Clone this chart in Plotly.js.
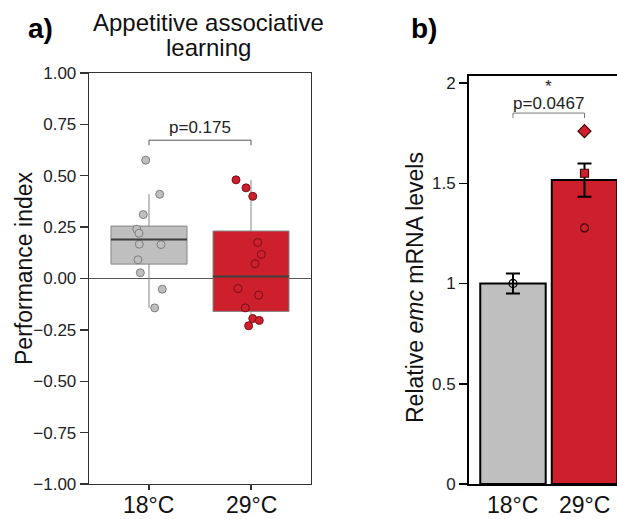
<!DOCTYPE html>
<html>
<head>
<meta charset="utf-8">
<script src="https://cdn.plot.ly/plotly-3.0.1.min.js"></script>
<style>
html, body { margin: 0; padding: 0; overflow: hidden; background: #fff; }
#chart { width: 640px; height: 519px; }
</style>
</head>
<body>
<div id="chart"></div>
<script>
// ---------- data ----------
const categories = ['18°C', '29°C'];

// Panel a: performance index, individual values
const pi18 = [0.576, 0.41, 0.311, 0.24, 0.22, 0.167, 0.165, 0.091, 0.028, -0.052, -0.143];
const jitter18 = [-0.032, 0.105, -0.056, -0.12, -0.098, -0.095, 0.118, -0.108, -0.085, 0.13, 0.056];
const pi29 = [0.48, 0.441, 0.40, 0.175, 0.117, 0.072, -0.049, -0.081, -0.143, -0.195, -0.204, -0.23];
const jitter29 = [-0.147, -0.049, 0.017, 0.066, 0.101, 0.039, -0.127, 0.075, -0.056, 0.017, 0.081, -0.023];

// Panel a: box statistics
const boxQ1 = [0.07, -0.16];
const boxMedian = [0.19, 0.01];
const boxQ3 = [0.255, 0.231];
const boxLowerFence = [-0.143, -0.23];
const boxUpperFence = [0.41, 0.48];
const pValueA = 'p=0.175';
const bracketA = 0.673;

// Panel b: relative emc mRNA levels
const meanExpr = [1.0, 1.516];
const semExpr = [0.05, 0.083];
const rep18 = [1.0];
const rep29 = [1.76, 1.55, 1.277];
const pValueB = 'p=0.0467';
const bracketB = 1.85;

// ---------- styling ----------
const FONT = 'Liberation Sans, Arial, Helvetica, sans-serif';
const W = 640, H = 519;
const px = x => x / W;
const py = y => 1 - y / H;
const GRAY = '#bfbfbf';
const RED = '#cd1f2c';
const boxW = 0.745;
const fills = [GRAY, RED];
const pointLines = ['#7f7f7f', '#7a0e16'];

const traces = [];
const shapes = [];

// boxes
[0, 1].forEach(i => {
  traces.push({
    type: 'box', xaxis: 'x', yaxis: 'y',
    x: [i], q1: [boxQ1[i]], median: [boxMedian[i]], q3: [boxQ3[i]],
    lowerfence: [boxLowerFence[i]], upperfence: [boxUpperFence[i]],
    width: boxW, whiskerwidth: 0, boxpoints: false,
    fillcolor: fills[i], line: { color: '#858585', width: 1 },
    showlegend: false, hoverinfo: 'skip'
  });
  shapes.push({
    type: 'line', xref: 'x', yref: 'y',
    x0: i - boxW / 2, x1: i + boxW / 2, y0: boxMedian[i], y1: boxMedian[i],
    line: { color: '#3f3f3f', width: 2 }
  });
});

// jittered points
[[pi18, jitter18, 0], [pi29, jitter29, 1]].forEach(([vals, jit, i]) => {
  traces.push({
    type: 'scatter', mode: 'markers', xaxis: 'x', yaxis: 'y',
    x: vals.map((v, k) => i + jit[k]), y: vals,
    marker: { size: 8, opacity: 1, color: fills[i], line: { color: pointLines[i], width: 1 } },
    showlegend: false, hoverinfo: 'skip'
  });
});

// bracket panel a
shapes.push({
  type: 'path', xref: 'x', yref: 'y',
  path: `M 0,${bracketA - 0.025} L 0,${bracketA} L 1,${bracketA} L 1,${bracketA - 0.025}`,
  line: { color: '#555', width: 1 }
});

// panel b bars
traces.push({
  type: 'bar', xaxis: 'x2', yaxis: 'y2',
  x: [0, 1], y: meanExpr, width: 0.915,
  marker: { color: [GRAY, RED], line: { color: '#000', width: 2 } },
  error_y: { type: 'data', array: semExpr, visible: true, color: '#000', thickness: 2, width: 7 },
  showlegend: false, hoverinfo: 'skip'
});
traces.push({
  type: 'scatter', mode: 'markers', xaxis: 'x2', yaxis: 'y2',
  x: rep18.map(() => 0), y: rep18,
  marker: { size: 8, opacity: 1, symbol: 'circle', color: 'rgba(0,0,0,0)', line: { color: '#000', width: 1.3 } },
  showlegend: false, hoverinfo: 'skip'
});
traces.push({
  type: 'scatter', mode: 'markers', xaxis: 'x2', yaxis: 'y2',
  x: rep29.map(() => 1), y: rep29,
  marker: { size: [10, 8, 8], opacity: 1, symbol: ['diamond', 'square', 'circle'],
            color: RED, line: { color: '#3a0808', width: 1.2 } },
  showlegend: false, hoverinfo: 'skip'
});
shapes.push({
  type: 'path', xref: 'x2', yref: 'y2',
  path: `M 0,${bracketB - 0.025} L 0,${bracketB} L 1,${bracketB} L 1,${bracketB - 0.025}`,
  line: { color: '#777', width: 1 }
});

const annotations = [
  { text: '<b>a)</b>', xref: 'paper', yref: 'paper', x: px(40), y: py(29), showarrow: false,
    font: { family: FONT, size: 28, color: '#000' }, xanchor: 'center', yanchor: 'middle' },
  { text: '<b>b)</b>', xref: 'paper', yref: 'paper', x: px(424), y: py(29), showarrow: false,
    font: { family: FONT, size: 28, color: '#000' }, xanchor: 'center', yanchor: 'middle' },
  { text: 'Appetitive associative', xref: 'paper', yref: 'paper', x: px(208), y: py(23), showarrow: false,
    font: { family: FONT, size: 24, color: '#111' }, xanchor: 'center', yanchor: 'middle' },
  { text: 'learning', xref: 'paper', yref: 'paper', x: px(208), y: py(47), showarrow: false,
    font: { family: FONT, size: 24, color: '#111' }, xanchor: 'center', yanchor: 'middle' },
  { text: 'Performance index', xref: 'paper', yref: 'paper', x: px(24), y: py(268), showarrow: false,
    textangle: -90, font: { family: FONT, size: 23, color: '#111' }, xanchor: 'center', yanchor: 'middle' },
  { text: 'Relative <i>emc</i> mRNA levels', xref: 'paper', yref: 'paper', x: px(415), y: py(288), showarrow: false,
    textangle: -90, font: { family: FONT, size: 23, color: '#111' }, xanchor: 'center', yanchor: 'middle' },
  { text: pValueA, xref: 'x', yref: 'y', x: 0.5, y: bracketA, showarrow: false, yanchor: 'bottom', yshift: 1,
    font: { family: FONT, size: 17, color: '#222' } },
  { text: pValueB, xref: 'x2', yref: 'y2', x: 0.5, y: bracketB, showarrow: false, yanchor: 'bottom', yshift: -2,
    font: { family: FONT, size: 17, color: '#222' } },
  { text: '*', xref: 'x2', yref: 'y2', x: 0.5, y: bracketB, showarrow: false, yanchor: 'bottom', yshift: 15,
    font: { family: FONT, size: 17, color: '#222' } }
];

// x tick labels under each category
[['x', 'y'], ['x2', 'y2']].forEach(([xr]) => {
  categories.forEach((c, i) => {
    annotations.push({ text: c, xref: xr, yref: 'paper', x: i, y: py(505), showarrow: false,
      xanchor: 'center', yanchor: 'middle', font: { family: FONT, size: 23, color: '#111' } });
  });
});

const layout = {
  width: W, height: H,
  margin: { l: 0, r: 0, t: 0, b: 0 },
  paper_bgcolor: '#fff', plot_bgcolor: 'rgba(0,0,0,0)',
  boxmode: 'overlay',
  font: { family: FONT, color: '#111' },
  showlegend: false,
  xaxis: {
    domain: [px(89), px(311)], range: [-0.588, 1.588],
    tickvals: [0, 1], ticktext: ['', ''], ticks: 'outside', ticklen: 5, tickwidth: 1.3, tickcolor: '#333',
    showline: true, linecolor: '#333', linewidth: 1.3, mirror: true,
    showgrid: false, zeroline: false
  },
  yaxis: {
    domain: [py(484), py(73)], range: [-1, 1],
    tickvals: [-1, -0.75, -0.5, -0.25, 0, 0.25, 0.5, 0.75, 1], tickformat: '.2f',
    ticks: 'outside', ticklen: 8, tickwidth: 1.3, tickcolor: '#333',
    showline: true, linecolor: '#333', linewidth: 1.3, mirror: true,
    showgrid: false, zeroline: true, zerolinecolor: '#555', zerolinewidth: 1.3,
    tickfont: { family: FONT, size: 17, color: '#222' }
  },
  xaxis2: {
    anchor: 'y2', domain: [px(469), 1], range: [-0.615, 1.776],
    tickvals: [0, 1], ticktext: ['', ''], ticks: '',
    showline: true, linecolor: '#000', linewidth: 2, mirror: true,
    showgrid: false, zeroline: false
  },
  yaxis2: {
    anchor: 'x2', domain: [py(484), py(76)], range: [0, 2.035],
    tickvals: [0, 0.5, 1, 1.5, 2], ticktext: ['0', '0.5', '1', '1.5', '2'],
    ticks: 'outside', ticklen: 8, tickwidth: 1.5, tickcolor: '#000',
    showline: true, linecolor: '#000', linewidth: 2,
    showgrid: false, zeroline: false,
    tickfont: { family: FONT, size: 17, color: '#222' }
  },
  shapes: shapes,
  annotations: annotations
};

Plotly.newPlot('chart', traces, layout, { staticPlot: true, displayModeBar: false });
</script>
</body>
</html>
